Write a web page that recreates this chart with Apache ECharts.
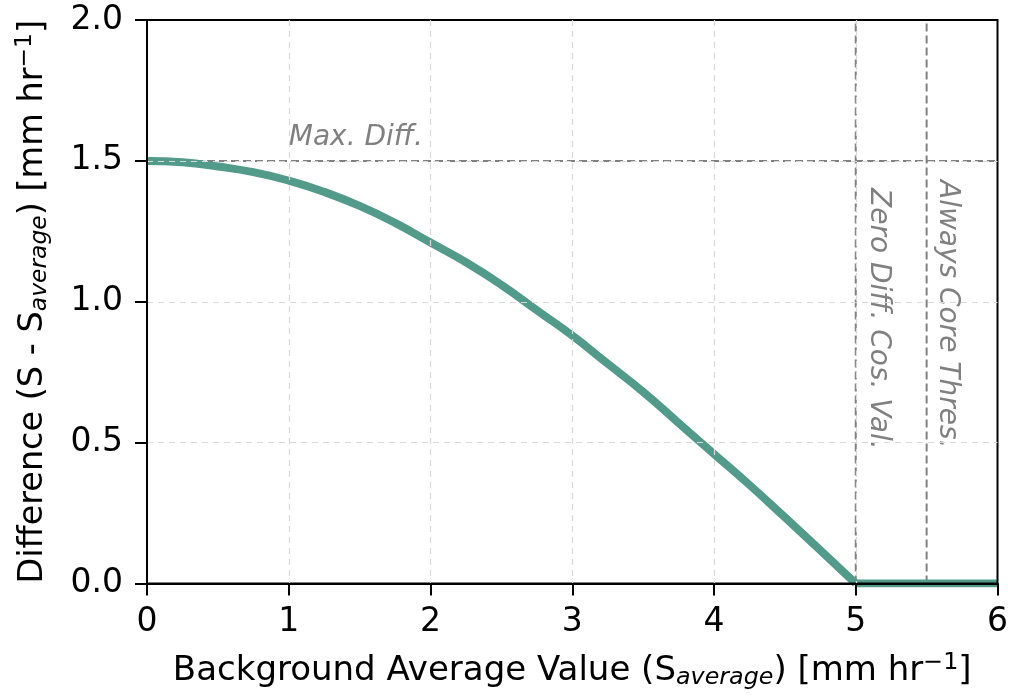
<!DOCTYPE html>
<html><head><meta charset="utf-8">
<script src="https://cdn.jsdelivr.net/npm/echarts@6/dist/echarts.min.js"></script>
<style>html,body{margin:0;padding:0;background:#fff}#c{width:1011px;height:695px}</style>
</head><body><div id="c"></div>
<script>
const xValues = [0,0.25,0.5,0.75,1,1.25,1.5,1.75,2,2.25,2.5,2.75,3,3.25,3.5,3.75,4,4.25,4.5,4.75,5,5.5,6];
const yValues = [1.50,1.495,1.48,1.46,1.43,1.39,1.34,1.28,1.21,1.14,1.06,0.97,0.88,0.78,0.68,0.57,0.46,0.35,0.235,0.118,0,0,0];
const maxDiff = 1.5;
const zeroDiffX = 5;
const alwaysCoreX = 5.5;
const xTicks = [0,1,2,3,4,5,6];
const yTicks = [0,0.5,1.0,1.5,2.0];
const annotations = ['Max. Diff.', 'Zero Diff. Cos. Val.', 'Always Core Thres.'];

const FONT = 'DejaVu Sans';
const chart = echarts.init(document.getElementById('c'), null, {renderer:'canvas'});
const dashGray = '#808080';
const kink = xValues.indexOf(zeroDiffX);
const pts = xValues.map((x,i)=>[x,yValues[i]]);
function nameRich(fs){
  return {
    n:{fontFamily:FONT,fontSize:fs,color:'#000'},
    sub:{fontFamily:FONT,fontSize:fs*0.7,fontStyle:'italic',color:'#000',padding:[13,0,0,0]},
    sup:{fontFamily:FONT,fontSize:fs*0.7,color:'#000',padding:[0,0,18,0]}
  };
}
const axisCommon = {
  axisLine:{show:true,onZero:false,lineStyle:{color:'#000',width:2}},
  axisTick:{show:true,inside:false,length:12,lineStyle:{color:'#000',width:2}},
  splitLine:{show:true,showMinLine:false,showMaxLine:false,lineStyle:{color:'#d9d9d9',type:[6,5],width:1.2}}
};
const option = {
  animation:false,
  backgroundColor:'#fff',
  grid:{left:147,right:13,top:20,bottom:110,show:true,borderColor:'#000',borderWidth:2,backgroundColor:'transparent',z:5},
  xAxis:Object.assign({type:'value',min:xTicks[0],max:xTicks[xTicks.length-1],interval:1,z:5,
    axisLabel:{fontFamily:FONT,fontSize:33,color:'#000',margin:22,formatter:v=>String(v)},
    name:'{n|Background Average Value (S}{sub|average}{n|) [mm hr}{sup|−1}{n|]}',
    nameLocation:'middle',nameGap:67,
    nameTextStyle:{rich:nameRich(34)}
  },axisCommon),
  yAxis:Object.assign({type:'value',min:yTicks[0],max:yTicks[yTicks.length-1],interval:0.5,z:5,
    axisLabel:{fontFamily:FONT,fontSize:33,color:'#000',margin:24,formatter:v=>v.toFixed(1)},
    name:'{n|Difference (S - S}{sub|average}{n|) [mm hr}{sup|−1}{n|]}',
    nameLocation:'middle',nameGap:93,
    nameTextStyle:{rich:nameRich(33.5)}
  },axisCommon),
  series:[
    {type:'line',data:[[0,maxDiff],[6,maxDiff]],symbol:'none',silent:true,z:1,
     lineStyle:{color:dashGray,width:2,type:[8,4]}},
    {type:'line',data:[[zeroDiffX,0],[zeroDiffX,2]],symbol:'none',silent:true,z:1,
     lineStyle:{color:dashGray,width:2,type:[8,4]}},
    {type:'line',data:[[alwaysCoreX,0],[alwaysCoreX,2]],symbol:'none',silent:true,z:1,
     lineStyle:{color:dashGray,width:2,type:[8,4]}},
    {type:'line',data:pts.slice(0,kink+1),symbol:'none',smooth:0.5,z:3,clip:true,
     lineStyle:{color:'#529b8a',width:8,cap:'butt',join:'round'}},
    {type:'line',data:pts.slice(kink),symbol:'none',z:3,clip:true,
     lineStyle:{color:'#529b8a',width:8,cap:'butt',join:'round'}}
  ]
};
chart.setOption(option);
const p1 = chart.convertToPixel({gridIndex:0},[1.0,maxDiff]);
const p2 = chart.convertToPixel({gridIndex:0},[zeroDiffX,2]);
const p3 = chart.convertToPixel({gridIndex:0},[alwaysCoreX,2]);
const txtStyle = {fontFamily:FONT,fontSize:28,fontStyle:'italic',fill:'#808080'};
chart.setOption({graphic:[
  {type:'text',x:p1[0],y:p1[1]-9,style:Object.assign({text:annotations[0],textAlign:'left',textVerticalAlign:'bottom'},txtStyle)},
  {type:'text',x:p2[0]+23,y:p2[1]+168,rotation:-Math.PI/2,style:Object.assign({text:annotations[1],textAlign:'left',textVerticalAlign:'middle'},txtStyle)},
  {type:'text',x:p3[0]+21,y:p3[1]+160,rotation:-Math.PI/2,style:Object.assign({text:annotations[2],textAlign:'left',textVerticalAlign:'middle'},txtStyle)}
]});
</script></body></html>
